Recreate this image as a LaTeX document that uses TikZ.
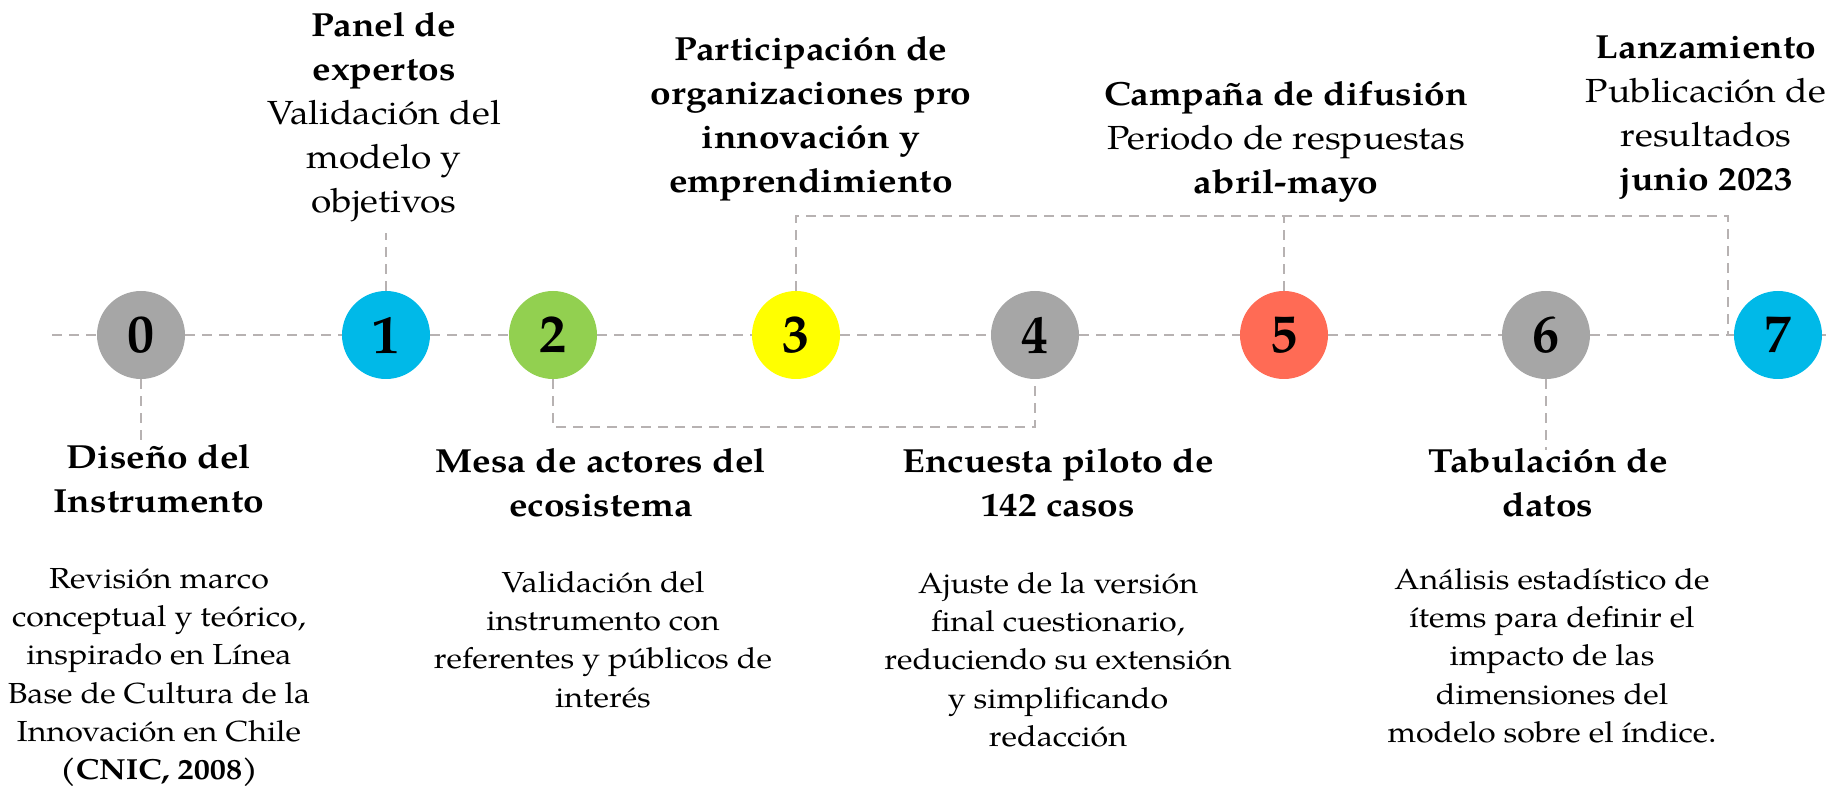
\documentclass[tikz,border=0pt]{standalone}
\usepackage{fontspec}
\setmainfont{TeX Gyre Pagella}[FakeStretch=1.11]
\newfontfamily\digitfont{TeX Gyre Pagella}
\definecolor{stgray}{HTML}{A6A6A6}
\definecolor{stcyan}{HTML}{00B9E8}
\definecolor{stgreen}{HTML}{92D050}
\definecolor{styellow}{HTML}{FFFF00}
\definecolor{stred}{HTML}{FF6B55}
\definecolor{linegray}{HTML}{B7B2B2}
\begin{document}
\begin{tikzpicture}[x=0.5pt,y=-0.5pt,
  conn/.style={draw=linegray, line width=1.3pt, dash pattern=on 5pt off 3.5pt},
  stage/.style={circle, minimum size=44pt, inner sep=0pt, font=\digitfont\fontsize{27}{30}\selectfont\bfseries},
  ttl/.style={align=center, anchor=north, inner sep=0pt, font=\fontsize{16.7}{22}\selectfont},
  body/.style={align=center, anchor=north, inner sep=0pt, font=\fontsize{14.5}{19.1}\selectfont}]
\useasboundingbox (0,0) rectangle (1828,786);

% main line end points
\coordinate (L) at (52,335);
\coordinate (R) at (1826,335);

% stage circles
\node[stage, fill=stgray]   (n0) at (141,335) {0};
\node[stage, fill=stcyan]   (n1) at (386,335) {1};
\node[stage, fill=stgreen]  (n2) at (553,335) {2};
\node[stage, fill=styellow] (n3) at (796,335) {3};
\node[stage, fill=stgray]   (n4) at (1035,335) {4};
\node[stage, fill=stred]    (n5) at (1284,335) {5};
\node[stage, fill=stgray]   (n6) at (1546,335) {6};
\node[stage, fill=stcyan]   (n7) at (1778,335) {7};

% free ends
\coordinate (d0) at (141,440);
\coordinate (u1) at (386,233);
\coordinate (b24) at (553,427);
\coordinate (top) at (796,216);
\coordinate (tr) at (1728,216);
\coordinate (j7) at (1728,335);
\coordinate (d6) at (1546,450);

% connectors
\draw[conn] (L) -- (n0);
\draw[conn] (n0) -- (n1);
\draw[conn] (n1) -- (n2);
\draw[conn] (n2) -- (n3);
\draw[conn] (n3) -- (n4);
\draw[conn] (n4) -- (n5);
\draw[conn] (n5) -- (n6);
\draw[conn] (n6) -- (n7);
\draw[conn] (n7) -- (R);
\draw[conn] (n0) -- (d0);
\draw[conn] (n1) -- (u1);
\draw[conn] (n2) -- (b24) -- (b24 -| n4) -- (n4);
\draw[conn] (n3) -- (top) -- (tr) -- (j7);
\draw[conn] (n5) -- (n5 |- top);
\draw[conn] (n6) -- (d6);

% top texts
\node[ttl] (t1) at (384,12) {\textbf{Panel de}\\\textbf{expertos}\\Validación del\\modelo y\\objetivos};
\node[ttl] (t3) at (811,36) {\textbf{Participación de}\\\textbf{organizaciones pro}\\\textbf{innovación y}\\\textbf{emprendimiento}};
\node[ttl] (t5) at (1286,81) {\textbf{Campaña de difusión}\\Periodo de respuestas\\\textbf{abril-mayo}};
\node[ttl] (t7) at (1706,35) {\textbf{Lanzamiento}\\Publicación de\\resultados\\\textbf{junio 2023}};

% bottom titles
\node[ttl] (b0) at (159,444) {\textbf{Diseño del}\\\textbf{Instrumento}};
\node[ttl] (b2) at (601,448) {\textbf{Mesa de actores del}\\\textbf{ecosistema}};
\node[ttl] (b4) at (1058,448) {\textbf{Encuesta piloto de}\\\textbf{142 casos}};
\node[ttl] (b6) at (1548,448) {\textbf{Tabulación de}\\\textbf{datos}};

% bottom bodies
\node[body] (p0) at (159,568) {Revisión marco\\conceptual y teórico,\\inspirado en Línea\\Base de Cultura de la\\Innovación en Chile\\\textbf{(CNIC, 2008)}};
\node[body] (p2) at (603,571) {Validación del\\instrumento con\\referentes y públicos de\\interés};
\node[body] (p4) at (1058,572) {Ajuste de la versión\\final cuestionario,\\reduciendo su extensión\\y simplificando\\redacción};
\node[body] (p6) at (1552,568) {Análisis estadístico de\\ítems para definir el\\impacto de las\\dimensiones del\\modelo sobre el índice.};
\end{tikzpicture}
\end{document}
